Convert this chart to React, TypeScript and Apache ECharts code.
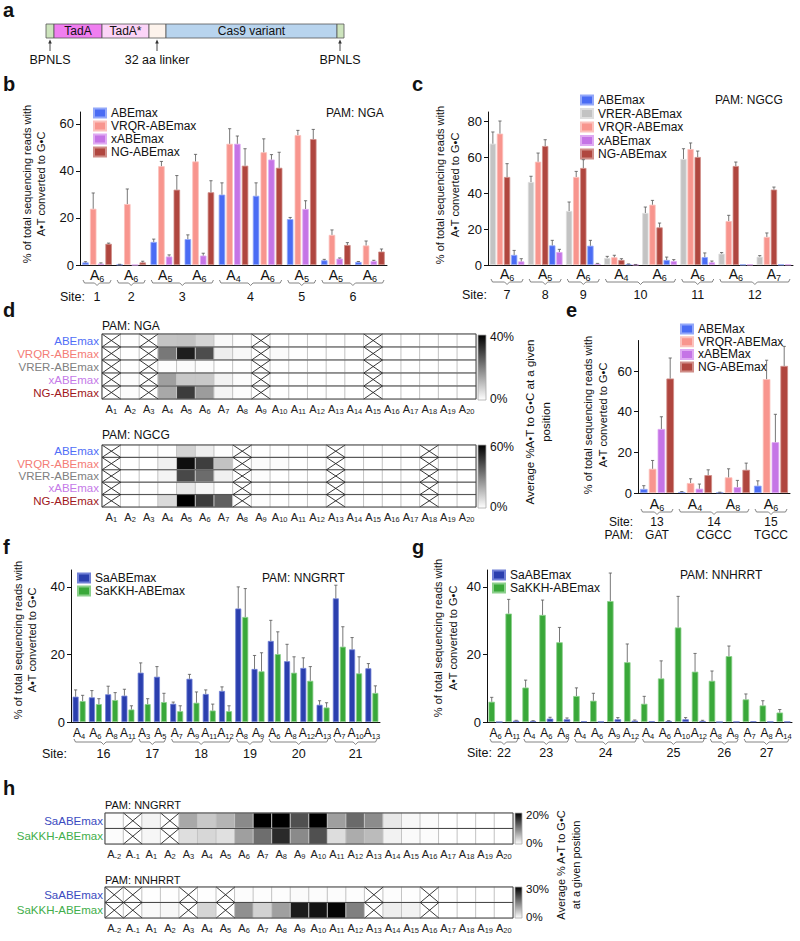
import { useEffect, useRef } from 'react';
import * as echarts from 'echarts';

const FONT = '"Liberation Sans", Arial, Helvetica, sans-serif';

const C_ABE = '#4a6cf4';
const C_VRQR = '#f8958e';
const C_XABE = '#c574e6';
const C_NG = '#b0463f';
const C_VRER = '#c3c3c3';
const C_SA = '#2b3fae';
const C_KKH = '#3aa83a';

// ---------- panel b (PAM: NGA) ----------
const bPositions = ['6', '6', '5', '6', '4', '6', '5', '5', '6'];
const bSites = ['1', '2', '3', '4', '5', '6'];
const bSiteSpans = [[0, 0], [1, 1], [2, 3], [4, 5], [6, 6], [7, 8]];
const bABEmax = [1.1, 0.2, 9.8, 11, 29.9, 29.4, 19.5, 2, 1.3];
const bABEmaxErr = [0.3, 0.1, 1.2, 1.8, 5, 5.5, 0.7, 0.4, 0.2];
const bVRQR = [23.9, 25.9, 42, 44, 51.5, 47.9, 55.2, 12.8, 8.3];
const bVRQRErr = [6.7, 6.4, 2, 3, 6.4, 5.7, 2, 2.1, 1.9];
const bXABE = [0.6, 0, 3.6, 4, 51.5, 44.8, 23.8, 2.7, 1.7];
const bXABEErr = [0.3, 0, 0.7, 1, 3.3, 2.1, 3.5, 0.3, 0.3];
const bNG = [9, 1.1, 32, 30.9, 42.2, 41.3, 53.5, 8.5, 5.7];
const bNGErr = [0.3, 0.5, 6, 4.9, 7.2, 6.6, 4.1, 1, 1.1];
const bTicks = [0, 20, 40, 60];

// ---------- panel c (PAM: NGCG) ----------
const cPositions = ['6', '5', '6', '4', '6', '6', '6', '7'];
const cSites = ['7', '8', '9', '10', '11', '12'];
const cSiteSpans = [[0, 0], [1, 1], [2, 2], [3, 4], [5, 5], [6, 7]];
const cVRER = [67.4, 46.1, 30, 3.9, 28.9, 58.9, 6.3, 4.6];
const cVRERErr = [6.5, 3.2, 5, 0.9, 3.3, 5.7, 0.6, 0.6];
const cVRQR = [73, 57.4, 48.9, 4.3, 33.5, 64.4, 24.4, 15.6];
const cVRQRErr = [7, 4.8, 3.1, 1.1, 2.4, 3.4, 3.2, 2.2];
const cNG = [48.9, 66.1, 53.9, 2.8, 20.9, 60, 55, 41.9];
const cNGErr = [7.4, 3.5, 4.6, 0.7, 2.4, 3.3, 2.2, 1.4];
const cABEmax = [5.6, 10.9, 10.7, 0.4, 2.8, 4.4, 0.2, 0.2];
const cABEmaxErr = [2.5, 2.8, 3, 0.2, 1.6, 2.3, 0, 0];
const cXABE = [2, 7.2, 0.7, 0.2, 2.2, 1.5, 0.2, 0.2];
const cXABEErr = [1.5, 1.5, 0.2, 0.1, 0.8, 0.7, 0, 0];
const cTicks = [0, 20, 40, 60, 80];

// ---------- panel e ----------
const ePositions = ['6', '4', '8', '6'];
const eSites = ['13', '14', '15'];
const ePams = ['GAT', 'CGCC', 'TGCC'];
const eSiteSpans = [[0, 0], [1, 2], [3, 3]];
const eABEMax = [2, 0.5, 0.3, 3.6];
const eABEMaxErr = [1.6, 0.2, 0.1, 2.4];
const eVRQR = [11.9, 4.9, 7.7, 56];
const eVRQRErr = [4.1, 2.1, 4.2, 9.3];
const eXABE = [31.5, 2.1, 2.9, 25];
const eXABEErr = [6, 2.3, 3.3, 13.7];
const eNG = [56.3, 8.8, 11.4, 62.5];
const eNGErr = [10.1, 2.6, 3.3, 9.6];
const eTicks = [0, 20, 40, 60];

// ---------- panel f (PAM: NNGRRT) ----------
const fPositions = ['4', '6', '8', '11', '3', '5', '7', '9', '11', '12', '8', '9', '6', '8', '12', '13', '7', '10', '13'];
const fSites = ['16', '17', '18', '19', '20', '21'];
const fSiteSpans = [[0, 3], [4, 5], [6, 9], [10, 11], [12, 15], [16, 18]];
const fSa = [7.5, 7.3, 8.2, 7.8, 14.6, 13.4, 5.4, 12.8, 8.3, 9.2, 33.6, 15.7, 24, 18, 16, 5.1, 36.6, 21.5, 15.9];
const fSaErr = [2, 2, 2.4, 1.9, 2.9, 3, 0.5, 1.3, 1.2, 1.2, 6.4, 4, 6.1, 5, 3, 1.2, 3.9, 3.5, 1.4];
const fKKH = [6.2, 5.3, 6.5, 3.7, 5.3, 5.9, 3.2, 5.7, 3.4, 3.2, 31.1, 15, 20.1, 14.6, 12.2, 4.3, 22.3, 14.4, 8.6];
const fKKHErr = [1.7, 1.6, 2.2, 1.1, 1.6, 2.6, 1.6, 3.2, 1.9, 1.6, 8.4, 5.5, 6.6, 4.7, 4.2, 1.4, 5.9, 4.9, 2.1];
const fgTicks = [0, 20, 40];

// ---------- panel g (PAM: NNHRRT) ----------
const gPositions = ['6', '11', '4', '6', '8', '4', '6', '9', '12', '4', '6', '10', '12', '8', '9', '7', '8', '14'];
const gSites = ['22', '23', '24', '25', '26', '27'];
const gSiteSpans = [[0, 1], [2, 4], [5, 8], [9, 12], [13, 14], [15, 17]];
const gKKH = [6, 32.1, 10.2, 31.7, 23.6, 7.7, 6.3, 35.8, 17.7, 5.4, 12.9, 28, 14.9, 12.2, 19.5, 6.7, 4.9, 2.8];
const gKKHErr = [1.3, 4.2, 2.2, 4.4, 4.4, 2.4, 2.2, 8.3, 5.4, 2.2, 5.2, 9.2, 5.4, 2.9, 3, 1.6, 1.4, 0.9];
const gSa = [0, 0.4, 0.3, 1, 0.8, 0.2, 0.1, 0.8, 0.4, 0.2, 0.3, 0.8, 0.3, 0, 0.1, 0.2, 0.1, 0.1];
const gSaErr = [0, 0.1, 0.1, 0.4, 0.4, 0, 0, 0.5, 0.2, 0, 0.1, 0.5, 0.2, 0, 0, 0, 0, 0];

// ---------- panel d heatmaps ----------
const dCols = ['1', '2', '3', '4', '5', '6', '7', '8', '9', '10', '11', '12', '13', '14', '15', '16', '17', '18', '19', '20'];
const dRows = [
  { name: 'ABEmax', color: '#4f6ef7' },
  { name: 'VRQR-ABEmax', color: '#f47c76' },
  { name: 'VRER-ABEmax', color: '#808080' },
  { name: 'xABEmax', color: '#c57ae8' },
  { name: 'NG-ABEmax', color: '#a0171c' },
];
const dNGA = [
  [0, 0.1, 0, 9.3, 9.5, 6.7, 1, 0.2, 0, 0, 0, 0, 0, 0, 0, 0, 0, 0, 0, 0],
  [0, 0.2, 0, 21.2, 35.3, 28, 2.7, 1.1, 0, 0.8, 0.2, 0, 0, 0, 0, 0, 0, 0, 0, 0],
  [0, 0, 0, 0.3, 0.6, 0.4, 0, 0, 0, 0, 0, 0, 0, 0, 0, 0, 0, 0, 0, 0],
  [0, 0.5, 0, 15, 8.6, 8.6, 2, 0.4, 0, 0, 0, 0, 0, 0, 0, 0, 0, 0, 0, 0],
  [0, 0.4, 0, 13.6, 30.6, 15.5, 1.7, 0.4, 0, 0, 0, 0, 0, 0, 0, 0, 0, 0, 0, 0],
];
const dNGAx = [0, 2, 8, 14];
const dNGCG = [
  [0, 0, 0, 0.3, 10.4, 4, 0.2, 0, 0, 0, 0, 0, 0, 0, 0, 0, 0, 0, 0, 0],
  [0, 0, 0, 3.5, 56.7, 45.4, 14.4, 0, 1, 1, 0, 0, 0, 0, 0, 0, 0, 0, 0, 0],
  [0, 0, 0, 2.6, 43, 34.6, 3.5, 0, 0.5, 0, 0, 0, 0, 0, 0, 0, 0, 0, 0, 0],
  [0, 0, 0, 0.2, 5.4, 2.1, 0, 0, 0, 0, 0, 0, 0, 0, 0, 0, 0, 0, 0, 0],
  [0, 0, 0, 8.7, 60, 45.9, 37.4, 0, 0.5, 0, 0, 0, 0, 0, 0, 0, 0, 0, 0, 0],
];
const dNGCGx = [0, 7, 12, 17];

// ---------- panel h heatmaps ----------
const hCols = ['-2', '-1', '1', '2', '3', '4', '5', '6', '7', '8', '9', '10', '11', '12', '13', '14', '15', '16', '17', '18', '19', '20'];
const hRows = [
  { name: 'SaABEmax', color: '#3b4bc0' },
  { name: 'SaKKH-ABEmax', color: '#3fae4a' },
];
const hNNGRRT = [
  [0.2, 0, 0.9, 0, 6.8, 4.3, 5.9, 9.2, 20, 20, 13.7, 20, 7.5, 11.7, 9, 1.8, 0.6, 0.3, 0, 0, 0, 0],
  [0.2, 0, 0.7, 0, 2.6, 3.1, 2.4, 7.5, 11.4, 16.7, 9.2, 13.7, 2.7, 6.5, 5.3, 1, 0.4, 0.2, 0, 0, 0, 0],
];
const hNNGRRTx = [1, 3];
const hNNHRRT = [
  [0, 0, 0.1, 0.1, 0, 0.1, 0, 0.3, 0.2, 0.2, 0.5, 0.4, 0.3, 0.2, 0, 0.2, 0.1, 0, 0, 0, 0, 0],
  [0, 0, 0.7, 1, 0, 4.9, 0, 13.1, 5.3, 11.2, 26.7, 27.6, 29.4, 15, 0, 2, 1.5, 0, 0, 0, 0, 0],
];
const hNNHRRTx = [0, 1, 4, 6, 14, 17];

type BarDef = { name: string; color: string; border: string; values: number[]; errors: number[] };

const BORDER: Record<string, string> = {
  [C_ABE]: '#93a8f9', [C_VRQR]: '#fbc2bd', [C_XABE]: '#dfaaf2', [C_NG]: '#cf8d88',
  [C_VRER]: '#dedede', [C_SA]: '#7080d6', [C_KKH]: '#8bd08b',
};
const def = (name: string, color: string, values: number[], errors: number[]): BarDef =>
  ({ name, color, border: BORDER[color], values, errors });

function barRich(fa: number, fs: number) {
  return {
    a: { fontSize: fa, fontFamily: FONT, color: '#111', lineHeight: fa + 3 },
    s: { fontSize: fs, fontFamily: FONT, color: '#111', lineHeight: 7, verticalAlign: 'bottom' },
  };
}
function heatRich() {
  return {
    a: { fontSize: 11, fontFamily: FONT, color: '#222', lineHeight: 13 },
    s: { fontSize: 7.5, fontFamily: FONT, color: '#222', lineHeight: 5, verticalAlign: 'bottom' },
  };
}

function addBarPanel(opt: any, p: any) {
  const k = opt.grid.length;
  opt.grid.push({ ...p.grid, outerBoundsMode: 'none' });
  opt.xAxis.push({
    type: 'category', gridIndex: k,
    data: p.positions.map((x: string, i: number) => `${k}_${i}_${x}`),
    axisLine: { show: true, onZero: false, lineStyle: { color: '#111', width: 1 } },
    axisTick: { show: false }, splitLine: { show: false },
    axisLabel: {
      interval: 0, margin: p.labelMargin,
      formatter: (_v: string, i: number) => `{a|A}{s|${p.positions[i]}}`,
      rich: barRich(p.labA ?? 14, p.labS ?? 9),
    },
  });
  opt.yAxis.push({
    type: 'value', gridIndex: k, min: 0, max: p.max, interval: 20,
    axisLine: { show: true, lineStyle: { color: '#111', width: 1 } },
    axisTick: { show: true, length: 4, lineStyle: { color: '#111' }, customValues: p.ticks },
    axisLabel: {
      customValues: p.ticks, fontSize: 13, fontFamily: FONT, color: '#111', margin: 6,
      formatter: (v: number) => (v % 20 === 0 ? String(v) : ''),
    },
    splitLine: { show: false },
  });
  const n = p.defs.length;
  const total = n * p.barW + (n - 1) * p.gap;
  p.defs.forEach((d: BarDef) => {
    opt.series.push({
      type: 'bar', name: d.name, xAxisIndex: k, yAxisIndex: k, data: d.values,
      barWidth: p.barW, barGap: `${(p.gap / p.barW) * 100}%`, silent: true,
      itemStyle: { color: d.color, borderColor: d.border, borderWidth: 0.8 },
    });
  });
  p.defs.forEach((d: BarDef, i: number) => {
    const off = -total / 2 + i * (p.barW + p.gap) + p.barW / 2;
    opt.series.push({
      type: 'custom', xAxisIndex: k, yAxisIndex: k, silent: true, z: 4,
      data: d.values.map((v, j) => [j, v, d.errors[j]]),
      renderItem: (_params: any, api: any) => {
        const j = api.value(0), v = api.value(1), e = api.value(2);
        if (!(e > 0)) return null;
        const p0 = api.coord([j, v]);
        const p1 = api.coord([j, v + e]);
        const x = p0[0] + off;
        const st = { stroke: '#555', lineWidth: 0.8 };
        return {
          type: 'group', children: [
            { type: 'line', shape: { x1: x, y1: p0[1], x2: x, y2: p1[1] }, style: st },
            { type: 'line', shape: { x1: x - 1.6, y1: p1[1], x2: x + 1.6, y2: p1[1] }, style: st },
          ],
        };
      },
    });
  });
  opt.series.push({
    type: 'custom', xAxisIndex: k, yAxisIndex: k, silent: true, z: 4,
    data: p.spans.map((s: number[]) => [s[0], s[1]]),
    renderItem: (params: any, api: any) => {
      const j = params.dataIndex;
      const a = api.coord([api.value(0), 0]);
      const b = api.coord([api.value(1), 0]);
      const bw = api.size([1, 0])[0];
      const x0 = a[0] - bw / 2 + 3, x1 = b[0] + bw / 2 - 3, xm = (x0 + x1) / 2;
      const y = a[1] + p.braceOff;
      const fs = p.siteSize || 12.5;
      const children: any[] = [
        {
          type: 'polyline',
          shape: { points: [[x0, y - 3], [x0 + 1.5, y], [xm - 2.5, y], [xm, y + 2.5], [xm + 2.5, y], [x1 - 1.5, y], [x1, y - 3]] },
          style: { stroke: '#777', lineWidth: 0.9, fill: 'none' },
        },
        {
          type: 'text', x: xm, y: a[1] + p.siteOff,
          style: { text: p.sites[j], fontSize: fs, fontFamily: FONT, fill: '#111', align: 'center', verticalAlign: 'middle' },
        },
      ];
      if (p.pams) {
        children.push({
          type: 'text', x: xm, y: a[1] + p.pamOff,
          style: { text: p.pams[j], fontSize: fs, fontFamily: FONT, fill: '#111', align: 'center', verticalAlign: 'middle' },
        });
      }
      return { type: 'group', children };
    },
  });
}

function addHeatPanel(opt: any, p: any) {
  const k = opt.grid.length;
  opt.grid.push({ ...p.grid, outerBoundsMode: 'none' });
  opt.xAxis.push({
    type: 'category', gridIndex: k, data: p.cols.map((_c: string, i: number) => `${k}_${i}`),
    axisLine: { show: false }, axisTick: { show: false }, splitLine: { show: false },
    axisLabel: {
      interval: 0, margin: p.labelMargin,
      formatter: (_v: string, i: number) => `{a|A}{s|${p.cols[i]}}`,
      rich: heatRich(),
    },
  });
  opt.yAxis.push({
    type: 'category', gridIndex: k, inverse: true,
    data: p.rows.map((r: any) => ({ value: r.name, textStyle: { color: r.color } })),
    axisLine: { show: false }, axisTick: { show: false }, splitLine: { show: false },
    axisLabel: { interval: 0, fontSize: 11.5, fontFamily: FONT, margin: p.rowMargin },
  });
  const data: number[][] = [];
  p.values.forEach((row: number[], r: number) =>
    row.forEach((v: number, c: number) => data.push([c, r, p.xCols.includes(c) ? 0 : v])));
  const si = opt.series.length;
  opt.series.push({
    type: 'heatmap', xAxisIndex: k, yAxisIndex: k, data, silent: true,
    itemStyle: { borderColor: '#c4c4c4', borderWidth: 1 }, emphasis: { disabled: true },
  });
  opt.visualMap.push({
    type: 'continuous', show: false, min: 0, max: p.max, dimension: 2, seriesIndex: si,
    inRange: { color: ['#ffffff', '#000000'] },
  });
  const nRows = p.rows.length;
  opt.series.push({
    type: 'custom', xAxisIndex: k, yAxisIndex: k, silent: true, z: 5, data: [[0, 0]],
    renderItem: (params: any, api: any) => {
      const cs = params.coordSys;
      const sz = api.size([1, 1]);
      const children: any[] = [];
      for (let r = 1; r < nRows; r++) {
        const y = api.coord([0, r])[1] - sz[1] / 2;
        children.push({ type: 'line', shape: { x1: cs.x, y1: y, x2: cs.x + cs.width, y2: y }, style: { stroke: '#4a4a4a', lineWidth: 1 } });
      }
      for (let r = 0; r < nRows; r++) {
        p.xCols.forEach((c: number) => {
          const ctr = api.coord([c, r]);
          const x0 = ctr[0] - sz[0] / 2, x1 = ctr[0] + sz[0] / 2;
          const y0 = ctr[1] - sz[1] / 2, y1 = ctr[1] + sz[1] / 2;
          const st = { stroke: '#222', lineWidth: 0.9 };
          children.push({ type: 'line', shape: { x1: x0, y1: y0, x2: x1, y2: y1 }, style: st });
          children.push({ type: 'line', shape: { x1: x0, y1: y1, x2: x1, y2: y0 }, style: st });
        });
      }
      children.push({ type: 'rect', shape: { x: cs.x, y: cs.y, width: cs.width, height: cs.height }, style: { fill: 'none', stroke: '#4a4a4a', lineWidth: 1 } });
      return { type: 'group', children };
    },
  });
}

function buildOption() {
  const opt: any = {
    animation: false,
    textStyle: { fontFamily: FONT },
    grid: [], xAxis: [], yAxis: [], series: [], visualMap: [], legend: [], graphic: [],
  };

  addBarPanel(opt, {
    grid: { left: 80, top: 112, width: 307, height: 153 }, positions: bPositions, max: 65, ticks: bTicks,
    defs: [def('ABEmax', C_ABE, bABEmax, bABEmaxErr), def('VRQR-ABEmax', C_VRQR, bVRQR, bVRQRErr),
      def('xABEmax', C_XABE, bXABE, bXABEErr), def('NG-ABEmax', C_NG, bNG, bNGErr)],
    barW: 6.5, gap: 1.2, labelMargin: 1, sites: bSites, spans: bSiteSpans, braceOff: 18, siteOff: 32,
  });
  addBarPanel(opt, {
    grid: { left: 488, top: 112, width: 305, height: 153 }, positions: cPositions, max: 85, ticks: cTicks,
    defs: [def('VRER-ABEmax', C_VRER, cVRER, cVRERErr), def('VRQR-ABEmax', C_VRQR, cVRQR, cVRQRErr),
      def('NG-ABEmax', C_NG, cNG, cNGErr), def('ABEmax', C_ABE, cABEmax, cABEmaxErr), def('xABEmax', C_XABE, cXABE, cXABEErr)],
    barW: 6.3, gap: 0.8, labelMargin: 0, sites: cSites, spans: cSiteSpans, braceOff: 17, siteOff: 30,
  });
  addBarPanel(opt, {
    grid: { left: 638, top: 340.5, width: 152, height: 152.5 }, positions: ePositions, max: 75, ticks: eTicks,
    defs: [def('ABEMax', C_ABE, eABEMax, eABEMaxErr), def('VRQR-ABEMax', C_VRQR, eVRQR, eVRQRErr),
      def('xABEMax', C_XABE, eXABE, eXABEErr), def('NG-ABEmax', C_NG, eNG, eNGErr)],
    barW: 7.6, gap: 1.2, labelMargin: 2, sites: eSites, pams: ePams, spans: eSiteSpans,
    braceOff: 19, siteOff: 29, pamOff: 42, siteSize: 12,
  });
  addBarPanel(opt, {
    grid: { left: 71, top: 570, width: 309, height: 152 }, positions: fPositions, max: 45, ticks: fgTicks,
    defs: [def('SaABEmax', C_SA, fSa, fSaErr), def('SaKKH-ABEmax', C_KKH, fKKH, fKKHErr)],
    barW: 6, gap: 1, labelMargin: 3, labA: 12, labS: 7.5, sites: fSites, spans: fSiteSpans, braceOff: 20, siteOff: 32,
  });
  addBarPanel(opt, {
    grid: { left: 487, top: 570, width: 305, height: 152 }, positions: gPositions, max: 45, ticks: fgTicks,
    defs: [def('SaKKH-ABEmax', C_KKH, gKKH, gKKHErr), def('SaABEmax', C_SA, gSa, gSaErr)],
    barW: 6.5, gap: 1, labelMargin: 3, labA: 12, labS: 7.5, sites: gSites, spans: gSiteSpans, braceOff: 20, siteOff: 31,
  });

  addHeatPanel(opt, { grid: { left: 102, top: 334, width: 374, height: 65 }, cols: dCols, rows: dRows, values: dNGA, xCols: dNGAx, max: 40, labelMargin: 3, rowMargin: 3 });
  addHeatPanel(opt, { grid: { left: 102, top: 445, width: 374, height: 62 }, cols: dCols, rows: dRows, values: dNGCG, xCols: dNGCGx, max: 60, labelMargin: 3, rowMargin: 3 });
  addHeatPanel(opt, { grid: { left: 105, top: 813, width: 408, height: 31 }, cols: hCols, rows: hRows, values: hNNGRRT, xCols: hNNGRRTx, max: 20, labelMargin: 3, rowMargin: 2 });
  addHeatPanel(opt, { grid: { left: 105, top: 887, width: 408, height: 31 }, cols: hCols, rows: hRows, values: hNNHRRT, xCols: hNNHRRTx, max: 30, labelMargin: 3, rowMargin: 2 });

  const legend = (names: string[], left: number, firstRow: number, step: number) => ({
    data: names, left, top: firstRow - step / 2, orient: 'vertical', icon: 'rect',
    itemWidth: 12, itemHeight: 9, itemGap: 0, padding: 0, selectedMode: false,
    textStyle: { fontSize: 12, fontFamily: FONT, color: '#111', lineHeight: step },
  });
  opt.legend = [
    legend(['ABEmax', 'VRQR-ABEmax', 'xABEmax', 'NG-ABEmax'], 93, 113, 13),
    legend(['ABEmax', 'VRER-ABEmax', 'VRQR-ABEmax', 'xABEmax', 'NG-ABEmax'], 580, 100, 13.5),
    legend(['ABEMax', 'VRQR-ABEMax', 'xABEMax', 'NG-ABEmax'], 680, 329, 12.7),
    legend(['SaABEmax', 'SaKKH-ABEmax'], 77, 578, 13),
    legend(['SaABEmax', 'SaKKH-ABEmax'], 492, 575, 13),
  ];

  const g: any[] = opt.graphic;
  const txt = (text: string, x: number, y: number, o: any = {}) => g.push({
    type: 'text', x, y, rotation: o.rotation || 0, silent: true,
    style: {
      text, fontFamily: FONT, fontSize: o.size ?? 12, fontWeight: o.weight ?? 'normal',
      fill: o.color ?? '#111', align: o.align ?? 'left', verticalAlign: 'middle',
    },
  });
  // panel letters
  const L = { size: 20, weight: 'bold' };
  txt('a', 3, 10, L); txt('b', 3, 84, L); txt('c', 412, 84, L); txt('d', 3, 310, L);
  txt('e', 566, 310, L); txt('f', 3, 547, L); txt('g', 412, 547, L); txt('h', 3, 788, L);

  // panel a: construct diagram
  const segs = [
    [46, 54, '#cde4bd', ''], [54, 102, '#f07ef0', 'TadA'], [102, 149, '#fcd4f8', 'TadA*'],
    [149, 166, '#fdf3ec', ''], [166, 337, '#b8d4ee', 'Cas9 variant'], [337, 344, '#cde4bd', ''],
  ] as [number, number, string, string][];
  segs.forEach(([x0, x1, fill, label]) => {
    g.push({ type: 'rect', shape: { x: x0, y: 24, width: x1 - x0, height: 14 }, style: { fill, stroke: '#555', lineWidth: 0.8 }, silent: true });
    if (label) txt(label, (x0 + x1) / 2, 31, { align: 'center', size: 12 });
  });
  [50, 157, 340].forEach((x) => {
    g.push({ type: 'line', shape: { x1: x, y1: 51, x2: x, y2: 42 }, style: { stroke: '#333', lineWidth: 0.9 }, silent: true });
    g.push({ type: 'polygon', shape: { points: [[x - 1.8, 43.5], [x + 1.8, 43.5], [x, 39.5]] }, style: { fill: '#333' }, silent: true });
  });
  txt('BPNLS', 50, 60, { align: 'center', size: 12.5 });
  txt('32 aa linker', 157, 60, { align: 'center', size: 12.5 });
  txt('BPNLS', 340, 60, { align: 'center', size: 12.5 });

  // PAM labels of bar panels
  txt('PAM: NGA', 326, 113, { size: 12 });
  txt('PAM: NGCG', 715, 100, { size: 12 });
  txt('PAM: NNGRRT', 262, 578, { size: 12 });
  txt('PAM: NNHRRT', 680, 575, { size: 12 });

  // Site: row labels
  txt('Site:', 60, 297, { size: 12.5 });
  txt('Site:', 462, 295, { size: 12.5 });
  txt('Site:', 633, 522, { size: 12, align: 'right' });
  txt('PAM:', 633, 535, { size: 12, align: 'right' });
  txt('Site:', 42, 754, { size: 12.5 });
  txt('Site:', 467, 753, { size: 12.5 });

  // y-axis titles
  const R = Math.PI / 2;
  const ytitle = (x1: number, x2: number, y: number, l1: string, l2: string, size = 11) => {
    txt(l1, x1, y, { rotation: R, align: 'center', size });
    txt(l2, x2, y, { rotation: R, align: 'center', size });
  };
  ytitle(27, 41, 184, '% of total sequencing reads with', 'A•T converted to G•C');
  ytitle(440, 455, 185, '% of total sequencing reads with', 'A•T converted to G•C');
  ytitle(588, 603, 415, '% of total sequencing reads with', 'A•T converted to G•C');
  ytitle(18, 32, 640, '% of total sequencing reads with', 'A•T converted to G•C');
  ytitle(438, 453, 638, '% of total sequencing reads with', 'A•T converted to G•C');
  ytitle(530, 546, 422, 'Average %A•T to G•C at a given', 'position', 11.5);
  ytitle(561, 576, 865, 'Average % A•T to G•C', 'at a given position', 11);

  // heatmap titles
  txt('PAM: NGA', 102, 326, { size: 12 });
  txt('PAM: NGCG', 102, 435, { size: 12 });
  txt('PAM: NNGRRT', 105, 805, { size: 11 });
  txt('PAM: NNHRRT', 105, 880, { size: 11 });

  // colour bars
  const cbar = (x: number, y: number, w: number, h: number, top: string, size: number) => {
    g.push({
      type: 'rect', shape: { x, y, width: w, height: h }, silent: true,
      style: {
        stroke: '#aaa', lineWidth: 0.8,
        fill: { type: 'linear', x: 0, y: 0, x2: 0, y2: 1, colorStops: [{ offset: 0, color: '#000' }, { offset: 1, color: '#fff' }] },
      },
    });
    txt(top, x + w + 4, y + 2, { size });
    txt('0%', x + w + 4, y + h - 1, { size });
  };
  cbar(478, 335, 8, 65, '40%', 12);
  cbar(478, 445, 8, 63, '60%', 12);
  cbar(515, 813, 7, 31, '20%', 11.5);
  cbar(515, 887, 7, 31, '30%', 11.5);

  return opt;
}

export default function App() {
  const ref = useRef<HTMLDivElement>(null);
  useEffect(() => {
    document.body.style.margin = '0';
    const chart = echarts.init(ref.current as HTMLDivElement, null, { renderer: 'svg', width: 800, height: 941 });
    chart.setOption(buildOption());
    return () => chart.dispose();
  }, []);
  return <div ref={ref} style={{ width: 800, height: 941 }} />;
}
